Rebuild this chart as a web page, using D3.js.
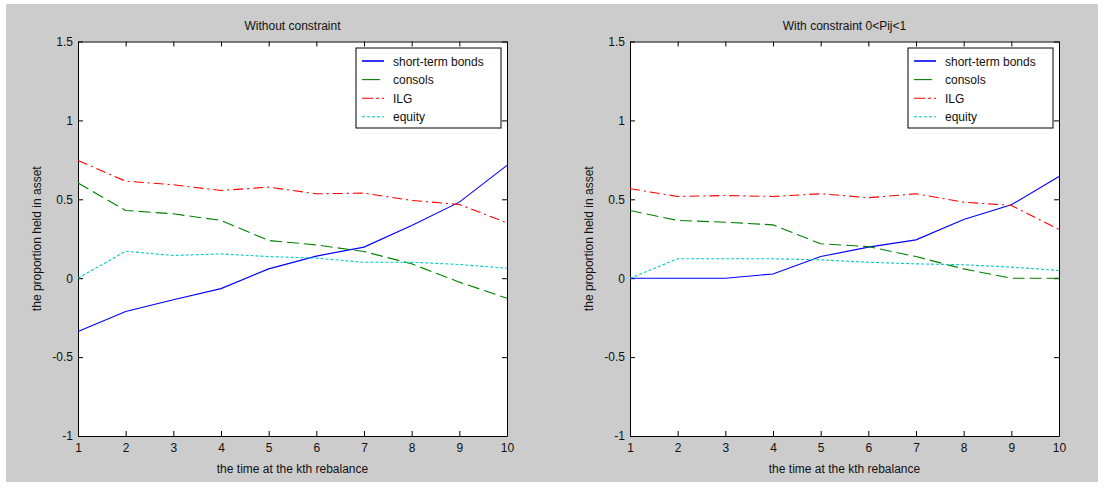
<!DOCTYPE html>
<html>
<head>
<meta charset="utf-8">
<script src="https://cdn.jsdelivr.net/npm/d3@7"></script>
<style>
  body { margin: 0; background: #ffffff; }
  text { font-family: "Liberation Sans", Arial, sans-serif; font-size: 12px; fill: #111; }
</style>
</head>
<body>
<div id="svg-container"></div>
<script>
// chart size
var svgWidth  = 1104;
var svgHeight = 486;

// x categories: rebalance number
var steps = [1, 2, 3, 4, 5, 6, 7, 8, 9, 10];
var yTicks = [-1, -0.5, 0, 0.5, 1, 1.5];

// series names in legend order
var seriesNames = ["short-term bonds", "consols", "ILG", "equity"];

// left panel, no constraint
var freeBonds   = [-0.338, -0.211, -0.137, -0.066, 0.059, 0.140, 0.197, 0.334, 0.482, 0.715];
var freeConsols = [0.603, 0.429, 0.408, 0.366, 0.239, 0.211, 0.169, 0.091, -0.025, -0.127];
var freeILG     = [0.746, 0.615, 0.592, 0.556, 0.577, 0.535, 0.539, 0.493, 0.467, 0.351];
var freeEquity  = [0.000, 0.171, 0.144, 0.154, 0.137, 0.127, 0.101, 0.101, 0.087, 0.063];

// right panel, with 0<Pij<1
var boundBonds   = [0.000, 0.000, 0.000, 0.027, 0.137, 0.197, 0.243, 0.372, 0.465, 0.645];
var boundConsols = [0.429, 0.366, 0.355, 0.338, 0.218, 0.200, 0.137, 0.059, 0.000, 0.000];
var boundILG     = [0.567, 0.518, 0.524, 0.518, 0.535, 0.510, 0.535, 0.482, 0.461, 0.309];
var boundEquity  = [0.000, 0.123, 0.123, 0.123, 0.116, 0.101, 0.091, 0.085, 0.070, 0.049];

// line looks (colour, dash) per series
var lineColors   = ["#0000ff", "#008000", "#ff0000", "#00c8c8"];
var lineDashes   = [null, "12,5", "10,4,2,4", "3,2"];
var legendDashes = [null, "18,4", "11,3,3,3", "3,2"];

// plot box geometry
var plotWidth  = 429;
var plotHeight = 394.5;
var plotTop    = 41.5;

var svg = d3.select("#svg-container")
            .append("svg")
            .attr("width", svgWidth)
            .attr("height", svgHeight);

// grey figure background
svg.append("rect")
    .attr("x", 6)
    .attr("y", 4)
    .attr("width", 1092)
    .attr("height", 478)
    .style("fill", "#cccccc");

var xScale = d3.scaleLinear().domain([1, 10]).range([0, plotWidth]);
var yScale = d3.scaleLinear().domain([-1, 1.5]).range([plotHeight, 0]);

function drawPanel(left, title, data) {
  var g = svg.append("g")
             .attr("transform", "translate(" + left + "," + plotTop + ")");

  g.append("rect")
      .attr("width", plotWidth)
      .attr("height", plotHeight)
      .style("fill", "#ffffff");

  // axes with inward ticks on all four sides
  var bottom = g.append("g")
      .attr("transform", "translate(0," + plotHeight + ")")
      .call(d3.axisBottom(xScale).tickValues(steps).tickSizeInner(-5).tickSizeOuter(0).tickPadding(7)
              .tickFormat(function(d) { return String(d); }));
  var leftAx = g.append("g")
      .call(d3.axisLeft(yScale).tickValues(yTicks).tickSizeInner(-5).tickSizeOuter(0).tickPadding(5)
              .tickFormat(function(d) { return String(d); }));
  var top = g.append("g")
      .call(d3.axisTop(xScale).tickValues(steps).tickSizeInner(-5).tickSizeOuter(0).tickFormat(""));
  var right = g.append("g")
      .attr("transform", "translate(" + plotWidth + ",0)")
      .call(d3.axisRight(yScale).tickValues(yTicks).tickSizeInner(-5).tickSizeOuter(0).tickFormat(""));

  [bottom, leftAx, top, right].forEach(function(a) {
    a.selectAll("path, line").attr("stroke", "#000");
    a.selectAll("text").attr("font-size", 12.5).attr("font-family", null).attr("fill", "#111");
  });

  // the series lines
  var line = d3.line()
      .x(function(d, i) { return xScale(steps[i]); })
      .y(function(d) { return yScale(d); });

  data.forEach(function(values, k) {
    g.append("path")
        .datum(values)
        .attr("d", line)
        .attr("fill", "none")
        .attr("stroke", lineColors[k])
        .attr("stroke-width", 1.1)
        .attr("stroke-dasharray", lineDashes[k]);
  });

  // legend box in the upper right
  var legend = g.append("g")
      .attr("transform", "translate(" + (plotWidth - 151) + ",6.5)");
  legend.append("rect")
      .attr("width", 145)
      .attr("height", 80)
      .style("fill", "#ffffff")
      .style("stroke", "#000");
  seriesNames.forEach(function(name, k) {
    var yy = 13 + k * 18.6;
    legend.append("line")
        .attr("x1", 6).attr("x2", 28)
        .attr("y1", yy).attr("y2", yy)
        .attr("stroke", lineColors[k])
        .attr("stroke-width", k == 0 ? 1.6 : 1.1)
        .attr("stroke-dasharray", legendDashes[k]);
    legend.append("text")
        .attr("x", 37)
        .attr("y", yy + 4.5)
        .attr("font-size", 12.5)
        .text(name);
  });

  // title and axis labels
  g.append("text")
      .attr("x", plotWidth / 2)
      .attr("y", -12)
      .attr("text-anchor", "middle")
      .attr("font-size", 13)
      .text(title);
  g.append("text")
      .attr("x", plotWidth / 2)
      .attr("y", plotHeight + 37)
      .attr("text-anchor", "middle")
      .attr("font-size", 13.5)
      .text("the time at the kth rebalance");
  g.append("text")
      .attr("transform", "translate(-41," + (plotHeight / 2) + ") rotate(-90)")
      .attr("text-anchor", "middle")
      .attr("dy", "0.35em")
      .attr("font-size", 14)
      .text("the proportion held in asset");
}

drawPanel(78, "Without constraint", [freeBonds, freeConsols, freeILG, freeEquity]);
drawPanel(630, "With constraint 0<Pij<1", [boundBonds, boundConsols, boundILG, boundEquity]);
</script>
</body>
</html>
